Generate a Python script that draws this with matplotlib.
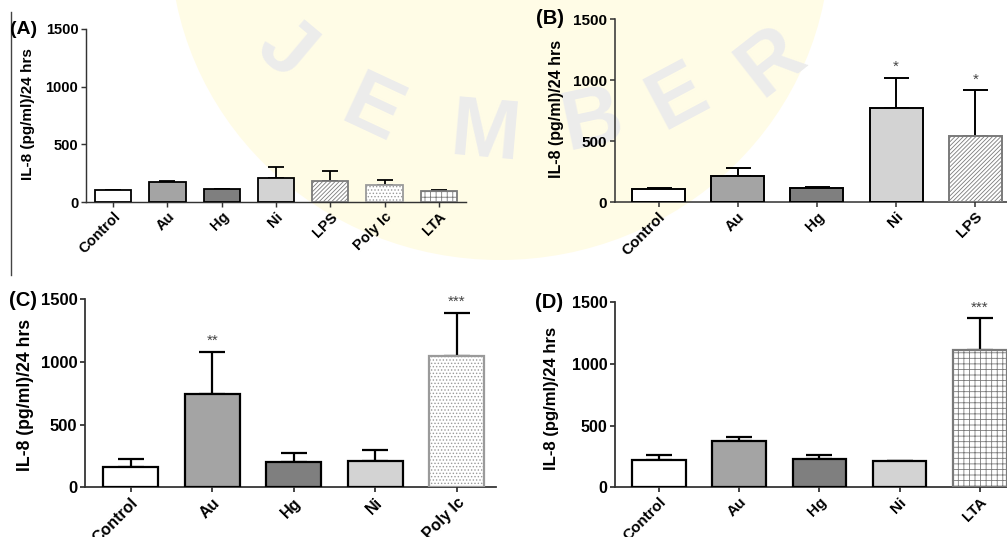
import matplotlib
matplotlib.use("Agg")
import matplotlib.pyplot as plt
from matplotlib.lines import Line2D
from matplotlib.patches import Ellipse
import numpy as np

plt.rcParams['font.family'] = ['Liberation Sans', 'DejaVu Sans']
plt.rcParams['hatch.linewidth'] = 0.6

# data (IL-8, pg/ml per 24 hrs)
cats_a = ["Control", "Au", "Hg", "Ni", "LPS", "Poly Ic", "LTA"]
vals_a = [100, 170, 110, 210, 185, 150, 95]
errs_a = [5, 12, 5, 95, 80, 40, 10]
stars_a = ["", "", "", "", "", "", ""]

cats_b = ["Control", "Au", "Hg", "Ni", "LPS"]
vals_b = [105, 213, 112, 768, 541]
errs_b = [10, 68, 8, 251, 374]
stars_b = ["", "", "", "*", "*"]

cats_c = ["Control", "Au", "Hg", "Ni", "Poly Ic"]
vals_c = [164, 745, 199, 210, 1048]
errs_c = [64, 335, 77, 90, 345]
stars_c = ["", "**", "", "", "***"]

cats_d = ["Control", "Au", "Hg", "Ni", "LTA"]
vals_d = [221, 378, 227, 211, 1113]
errs_d = [41, 27, 35, 4, 257]
stars_d = ["", "", "", "", "***"]

# fill / hatch per treatment
style = {
    "Control": ("white", "black", None),
    "Au": ("#a4a4a4", "black", None),
    "Hg": ("#7f7f7f", "black", None),
    "Ni": ("#d3d3d3", "black", None),
    "LPS": ("white", "#7a7a7a", "////////"),
    "Poly Ic": ("white", "#9a9a9a", "....."),
    "LTA": ("white", "#7a7a7a", "+++"),
}


def panel(fig, rect, cats, vals, errs, stars, xlim, fs, xfs, yfs, lw, cap):
    ax = fig.add_axes(rect)
    x = np.arange(len(cats))
    for i, c in enumerate(cats):
        fc, ec, h = style[c]
        ax.bar(x[i], vals[i], width=0.67, color=fc, edgecolor=ec, hatch=h,
               linewidth=lw, zorder=3)
    ax.errorbar(x, vals, yerr=[np.zeros(len(x)), errs], fmt='none',
                ecolor='black', elinewidth=lw, capsize=cap, capthick=lw, zorder=2)
    for i, s in enumerate(stars):
        if s:
            ax.annotate(s, (x[i], vals[i] + errs[i]), xytext=(0, 5),
                        textcoords='offset points', ha='center', va='baseline',
                        fontsize=11, color='#444444')
    ax.set_ylim(0, 1500)
    ax.set_xlim(*xlim)
    ax.set_yticks([0, 500, 1000, 1500])
    ax.set_xticks(x)
    ax.set_xticklabels(cats, rotation=45, ha='right', rotation_mode='anchor',
                       fontsize=xfs, fontweight='bold')
    plt.setp(ax.get_yticklabels(), fontsize=fs, fontweight='bold')
    ax.spines['top'].set_visible(False)
    ax.spines['right'].set_visible(False)
    for sp in ['left', 'bottom']:
        ax.spines[sp].set_color('#333333')
        ax.spines[sp].set_linewidth(lw * 0.8)
    ax.tick_params(length=3.5, width=lw * 0.8, color='#333333', pad=2)
    ax.set_ylabel("IL-8 (pg/ml)/24 hrs", fontsize=yfs, fontweight='bold')
    ax.patch.set_alpha(0)
    return ax


fig = plt.figure(figsize=(10.07, 5.37), dpi=100)

# faint watermark of the source page
fig.add_artist(Ellipse((500 / 1007, 1 + 60 / 537), 660 / 1007, 640 / 537,
                       facecolor='#fffce6', edgecolor='none', zorder=-2))
wm = [("J", 285, 50, -40), ("E", 372, 112, -25), ("M", 485, 135, -5),
      ("B", 592, 122, 12), ("E", 678, 98, 28), ("R", 772, 62, 38)]
for ch, px, py, rot in wm:
    fig.text(px / 1007, 1 - py / 537, ch, fontsize=60, fontweight='bold',
             color='#ececec', ha='center', va='center', rotation=rot, zorder=-1)

axa = panel(fig, [0.0854, 0.6238, 0.3774, 0.3222], cats_a, vals_a, errs_a, stars_a,
            (-0.5, 6.5), 10.5, 10.5, 11, 1.3, 5.5)
axb = panel(fig, [0.6107, 0.6238, 0.3893, 0.3408], cats_b, vals_b, errs_b, stars_b,
            (-0.55, 4.4), 11, 11, 11.5, 1.4, 9)
axc = panel(fig, [0.0844, 0.0926, 0.4081, 0.3501], cats_c, vals_c, errs_c, stars_c,
            (-0.56, 4.48), 12, 11.5, 12.7, 1.6, 9.5)
axd = panel(fig, [0.6107, 0.0926, 0.3893, 0.3445], cats_d, vals_d, errs_d, stars_d,
            (-0.55, 4.34), 11.5, 11, 12, 1.6, 9.5)

axa.yaxis.set_label_coords(-0.134, 0.51)
axb.yaxis.set_label_coords(-0.13, 0.51)
axc.yaxis.set_label_coords(-0.125, 0.49)
axd.yaxis.set_label_coords(-0.142, 0.48)

# panel letters
fig.text(10 / 1007, 1 - 29 / 537, "(A)", fontsize=14, fontweight='bold', va='center')
fig.text(536 / 1007, 1 - 19 / 537, "(B)", fontsize=14.5, fontweight='bold', va='center')
fig.text(9 / 1007, 1 - 300 / 537, "(C)", fontsize=14.5, fontweight='bold', va='center')
fig.text(535 / 1007, 1 - 302 / 537, "(D)", fontsize=14.5, fontweight='bold', va='center')

# thin frame line at the left of panel A
fig.add_artist(Line2D([11 / 1007, 11 / 1007], [1 - 12 / 537, 1 - 275 / 537],
                      color='#444444', linewidth=1))

fig.savefig("out.png", dpi=100)
